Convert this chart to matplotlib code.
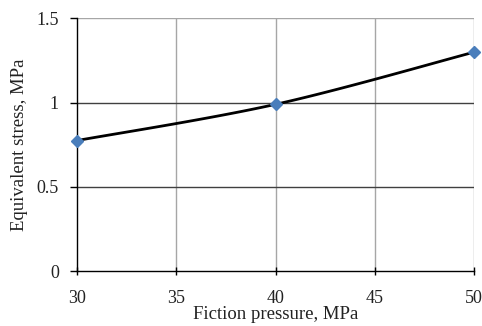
import numpy as np
import matplotlib
matplotlib.use("Agg")
import matplotlib.pyplot as plt

# Data
pressure = [30, 40, 50]
stress = [0.775, 0.99, 1.30]
x_ticks = [30, 35, 40, 45, 50]
y_ticks = [0, 0.5, 1, 1.5]

plt.rcParams['font.family'] = ['Liberation Serif', 'DejaVu Serif']


def smooth_curve(xs, ys, n=60):
    """Catmull-Rom style smoothed path through the points (like a smoothed line chart)."""
    xs = np.asarray(xs, float)
    ys = np.asarray(ys, float)
    px = np.concatenate([[xs[0]], xs, [xs[-1]]])
    py = np.concatenate([[ys[0]], ys, [ys[-1]]])
    out_x, out_y = [], []
    t = np.linspace(0, 1, n)
    for i in range(1, len(px) - 2):
        p0 = np.array([px[i - 1], py[i - 1]])
        p1 = np.array([px[i], py[i]])
        p2 = np.array([px[i + 1], py[i + 1]])
        p3 = np.array([px[i + 2], py[i + 2]])
        c1 = p1 + (p2 - p0) / 6
        c2 = p2 - (p3 - p1) / 6
        pts = ((1 - t)[:, None] ** 3 * p1 + 3 * ((1 - t) ** 2 * t)[:, None] * c1
               + 3 * ((1 - t) * t ** 2)[:, None] * c2 + (t ** 3)[:, None] * p2)
        out_x.extend(pts[:, 0])
        out_y.extend(pts[:, 1])
    return np.array(out_x), np.array(out_y)


fig = plt.figure(figsize=(4.82, 3.26), dpi=100)
ax = fig.add_axes([0.1598, 0.1687, 0.8236, 0.7746])

ax.set_xlim(30, 50)
ax.set_ylim(0, 1.5)

# grid
for xv in x_ticks[1:]:
    ax.axvline(xv, color='#a6a6a6', lw=1.0, zorder=1)
for yv in y_ticks[1:-1]:
    ax.axhline(yv, color='#404040', lw=1.0, zorder=1)
ax.axhline(1.5, color='#a6a6a6', lw=1.0, zorder=1)

sx, sy = smooth_curve(pressure, stress)
ax.plot(sx, sy, color='black', lw=2.0, zorder=3)
ax.plot(pressure, stress, linestyle='none', marker='D', markersize=6,
        color='#4a7ebb', zorder=4, clip_on=False)

for s in ['top', 'right']:
    ax.spines[s].set_visible(False)
ax.spines['left'].set_color('black')
ax.spines['bottom'].set_color('black')
ax.spines['left'].set_linewidth(1.0)
ax.spines['bottom'].set_linewidth(1.0)

ax.set_xticks(x_ticks)
ax.set_xticklabels([str(v) for v in x_ticks])
ax.set_yticks(y_ticks)
ax.set_yticklabels(['0', '0.5', '1', '1.5'])
ax.tick_params(axis='x', direction='inout', length=6, width=1, labelsize=13,
               pad=11, colors='black')
ax.tick_params(axis='y', direction='out', length=5, width=1, labelsize=13,
               pad=8, colors='black')
for lab in ax.get_xticklabels() + ax.get_yticklabels():
    lab.set_color('#222222')

ax.set_xlabel('Fiction pressure, MPa', fontsize=13.5, labelpad=-1, color='#222222')
ax.set_ylabel('Equivalent stress, MPa', fontsize=13.5, labelpad=6, color='#222222')

fig.savefig('out.png', dpi=100)
